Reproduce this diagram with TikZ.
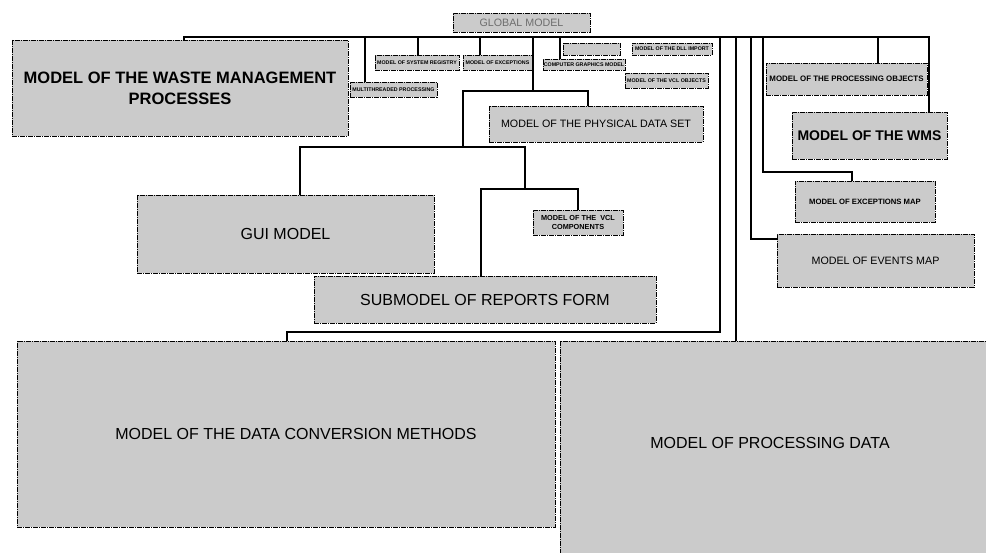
\documentclass[tikz,border=0pt]{standalone}
\usepackage{fontspec}
\setmainfont{Liberation Sans}
\definecolor{boxgray}{RGB}{203,203,203}
\definecolor{txtgray}{RGB}{110,110,110}
\begin{document}
\begin{tikzpicture}[x=1pt,y=-1pt,
  box/.style={draw=black, fill=boxgray, line width=0.9pt,
    dash pattern=on 5pt off 1pt on 1pt off 1pt, inner sep=0pt, align=center, text=black},
  tiny/.style={font=\bfseries\fontsize{5.3}{6}\selectfont},
  wire/.style={line width=2.2pt, line join=miter}]
\useasboundingbox (0,0) rectangle (986,553);
\clip (0,0) rectangle (986,553);
\fill[white] (0,0) rectangle (986,553);

% boxes
\node[box, minimum width=137pt, minimum height=19pt, text=txtgray,
  font=\fontsize{10.7}{12}\selectfont] (global) at (521.5,22.5) {GLOBAL MODEL};
\node[box, minimum width=336pt, minimum height=96pt,
  font=\bfseries\fontsize{16.5}{21}\selectfont] (waste) at (180,88)
  {MODEL OF THE WASTE MANAGEMENT\\PROCESSES};
\node[box, tiny, minimum width=87pt, minimum height=15pt] (mt) at (393.5,89.5) {MULTITHREADED PROCESSING};
\node[box, tiny, minimum width=84pt, minimum height=15pt] (sysreg) at (417,62.5) {MODEL OF SYSTEM REGISTRY};
\node[box, tiny, minimum width=69pt, minimum height=15pt] (exc) at (497.5,62.5) {MODEL OF EXCEPTIONS};
\node[box, tiny, minimum width=57pt, minimum height=12pt] (blank) at (591.5,49) {};
\node[box, tiny, minimum width=82pt, minimum height=11pt] (cg) at (584,64.5) {COMPUTER GRAPHICS MODEL};
\node[box, tiny, minimum width=80pt, minimum height=12pt] (dll) at (672,49) {MODEL OF THE DLL IMPORT};
\node[box, tiny, minimum width=83pt, minimum height=15pt] (vclo) at (666.5,80.5) {MODEL OF THE VCL OBJECTS};
\node[box, minimum width=214pt, minimum height=36pt,
  font=\fontsize{10.7}{12}\selectfont] (phys) at (596,124) {MODEL OF THE PHYSICAL DATA SET};
\node[box, minimum width=297pt, minimum height=78pt,
  font=\fontsize{16}{19}\selectfont] (gui) at (285.5,234) {GUI MODEL};
\node[box, minimum width=90pt, minimum height=25pt,
  font=\bfseries\fontsize{7.3}{9}\selectfont] (vclc) at (578,222.5) {MODEL OF THE\ \ VCL\\COMPONENTS};
\node[box, minimum width=342pt, minimum height=47pt,
  font=\fontsize{16}{19}\selectfont] (sub) at (485,299.5) {SUBMODEL OF REPORTS FORM};
\node[box, minimum width=538pt, minimum height=186pt,
  label={[font=\fontsize{16}{19}\selectfont, xshift=10pt]center:MODEL OF THE DATA CONVERSION METHODS}]
  (dconv) at (286,434) {};
\node[box, minimum width=460pt, minimum height=224pt,
  label={[font=\fontsize{16}{19}\selectfont, xshift=-20pt, yshift=10pt]center:MODEL OF PROCESSING DATA}]
  (pdata) at (790,453) {};
\node[box, minimum width=161pt, minimum height=32pt,
  font=\bfseries\fontsize{7.9}{9}\selectfont] (procobj) at (846.5,79) {MODEL OF THE PROCESSING OBJECTS};
\node[box, minimum width=155pt, minimum height=47pt,
  font=\bfseries\fontsize{14}{16}\selectfont] (wms) at (869.5,135.5) {MODEL OF THE WMS};
\node[box, minimum width=140pt, minimum height=41pt,
  font=\bfseries\fontsize{7.7}{9}\selectfont] (excmap) at (865,201.5) {MODEL OF EXCEPTIONS MAP};
\node[box, minimum width=197pt, minimum height=53pt,
  font=\fontsize{10.7}{12}\selectfont] (events) at (875.5,260.5) {MODEL OF EVENTS MAP};

% bus coordinates
\coordinate (busL) at (184,37);
\coordinate (busR) at (929,37);
\coordinate (b365) at (365,37);
\coordinate (b418) at (418,37);
\coordinate (b480) at (480,37);
\coordinate (b533) at (533,37);
\coordinate (b560) at (560,37);
\coordinate (b720) at (720,37);
\coordinate (b736) at (736,37);
\coordinate (b751) at (751,37);
\coordinate (b763) at (763,37);
\coordinate (b878) at (878,37);
% junctions
\coordinate (j1) at (533,91);
\coordinate (j1L) at (463,91);
\coordinate (j1R) at (588,91);
\coordinate (j2L) at (300,147);
\coordinate (j2R) at (525,147);
\coordinate (j3) at (525,189);
\coordinate (j3L) at (481,189);
\coordinate (j3R) at (578,189);
\coordinate (k1) at (720,332);
\coordinate (k1L) at (287,332);
\coordinate (m1) at (751,239);
\coordinate (n1) at (763,172);
\coordinate (n2) at (852,172);

% connectors
\draw[wire] (busL |- waste.north) -- (busL) -- (busR) -- (busR |- wms.north);
\draw[wire] (b365) -- (b365 |- mt.north);
\draw[wire] (b418) -- (b418 |- sysreg.north);
\draw[wire] (b480) -- (b480 |- exc.north);
\draw[wire] (b560) -- (b560 |- cg.north);
\draw[wire] (b878) -- (b878 |- procobj.north);
\draw[wire] (b736) -- (b736 |- pdata.north);
\draw[wire] (b533) -- (j1);
\draw[wire] (j1L |- j2L) -- (j1L) -- (j1R) -- (j1R |- phys.north);
\draw[wire] (j2L |- gui.north) -- (j2L) -- (j2R) -- (j3);
\draw[wire] (j3L |- sub.north) -- (j3L) -- (j3R) -- (j3R |- vclc.north);
\draw[wire] (b720) -- (k1) -- (k1L) -- (k1L |- dconv.north);
\draw[wire] (b751) -- (m1) -- (m1 -| events.west);
\draw[wire] (b763) -- (n1) -- (n2) -- (n2 |- excmap.north);
\end{tikzpicture}
\end{document}
